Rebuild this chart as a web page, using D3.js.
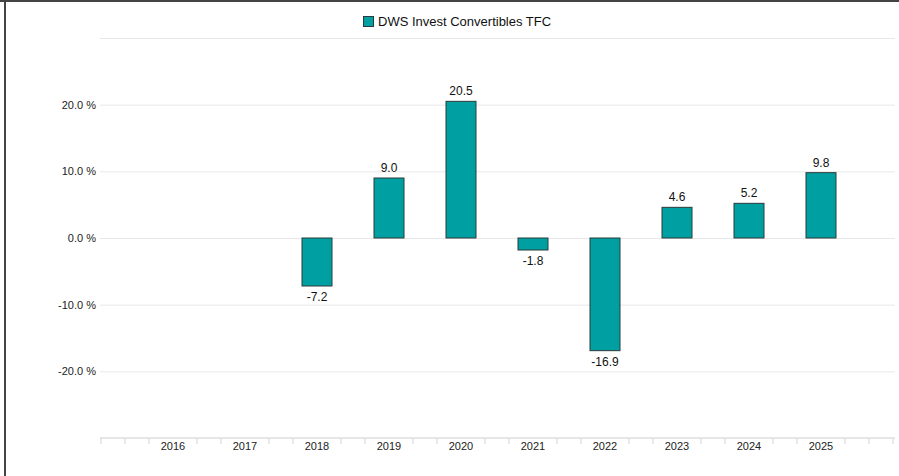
<!doctype html>
<html lang="en">
<head>
<meta charset="utf-8" />
<title>DWS Invest Convertibles TFC</title>
<script src="https://cdn.jsdelivr.net/npm/d3@7"></script>
<style>
  body { margin: 0; background: #fff; }
  svg { display: block; font-family: "Liberation Sans", Arial, sans-serif; }
</style>
</head>
<body>
<script>
// chart data
var years = [2016, 2017, 2018, 2019, 2020, 2021, 2022, 2023, 2024, 2025];
var returns = [null, null, -7.2, 9.0, 20.5, -1.8, -16.9, 4.6, 5.2, 9.8];
var yTicks = [-20, -10, 0, 10, 20];
var seriesName = "DWS Invest Convertibles TFC";

var w = 899, h = 476;
var barColor = "#009fa1";

var svg = d3.select("body").append("svg")
  .attr("width", w)
  .attr("height", h);

// frame (top + left edges only)
svg.append("line").attr("x1", 0).attr("x2", w).attr("y1", 1).attr("y2", 1)
  .attr("stroke", "#444").attr("stroke-width", 2);
svg.append("line").attr("x1", 5).attr("x2", 5).attr("y1", 0).attr("y2", h)
  .attr("stroke", "#444").attr("stroke-width", 2);

var x = d3.scaleLinear().domain([2015, 2026]).range([101, 893]);
var y = d3.scaleLinear().domain([-30, 30]).range([438, 38]);

// gridlines
svg.append("g").selectAll("line")
  .data([-20, -10, 0, 10, 20, 30])
  .enter().append("line")
  .attr("x1", 100).attr("x2", 895)
  .attr("y1", function(d) { return y(d) + 0.5; })
  .attr("y2", function(d) { return y(d) + 0.5; })
  .attr("stroke", "#e8e8e8")
  .attr("stroke-width", 1);

// y labels
svg.append("g").selectAll("text")
  .data(yTicks)
  .enter().append("text")
  .attr("x", 96)
  .attr("y", function(d) { return y(d) + 4; })
  .attr("text-anchor", "end")
  .attr("font-size", "11px")
  .attr("fill", "#222")
  .text(function(d) { return d.toFixed(1) + " %"; });

// x axis line and minor ticks
svg.append("line")
  .attr("x1", 100).attr("x2", 895)
  .attr("y1", y(-30)).attr("y2", y(-30))
  .attr("stroke", "#e6e6e6").attr("stroke-width", 2);

var minor = d3.range(0, 34).map(function(i) { return 2015 + i / 3; })
  .filter(function(v, i) { return i % 3 !== 0 || i === 0 || i === 33; });
svg.append("g").selectAll("line")
  .data(minor)
  .enter().append("line")
  .attr("x1", function(d) { return x(d); })
  .attr("x2", function(d) { return x(d); })
  .attr("y1", y(-30))
  .attr("y2", y(-30) + 6)
  .attr("stroke", "#e0e0e0")
  .attr("stroke-width", 1.5);

svg.append("g").selectAll("text")
  .data(years)
  .enter().append("text")
  .attr("x", function(d) { return x(d); })
  .attr("y", y(-30) + 12)
  .attr("text-anchor", "middle")
  .attr("font-size", "11px")
  .attr("fill", "#222")
  .text(function(d) { return d; });

// bars
var data = years.map(function(yr, i) { return { year: yr, v: returns[i] }; })
  .filter(function(d) { return d.v !== null; });
var barW = 30;

svg.append("g").selectAll("rect")
  .data(data)
  .enter().append("rect")
  .attr("x", function(d) { return x(d.year) - barW / 2; })
  .attr("y", function(d) { return y(Math.max(0, d.v)); })
  .attr("width", barW)
  .attr("height", function(d) { return Math.abs(y(d.v) - y(0)); })
  .attr("fill", barColor)
  .attr("stroke", "#2b3a3a")
  .attr("stroke-width", 1);

svg.append("g").selectAll("text")
  .data(data)
  .enter().append("text")
  .attr("x", function(d) { return x(d.year); })
  .attr("y", function(d) { return d.v >= 0 ? y(d.v) - 6 : y(d.v) + 15; })
  .attr("text-anchor", "middle")
  .attr("font-size", "12px")
  .attr("fill", "#111")
  .text(function(d) { return d.v.toFixed(1); });

// legend
var lg = svg.append("g");
lg.append("rect")
  .attr("x", 363.5).attr("y", 16.5)
  .attr("width", 10).attr("height", 10)
  .attr("fill", barColor)
  .attr("stroke", "#2b3a3a");
lg.append("text")
  .attr("x", 378).attr("y", 26)
  .attr("font-size", "13px")
  .attr("fill", "#111")
  .text(seriesName);
</script>
</body>
</html>
